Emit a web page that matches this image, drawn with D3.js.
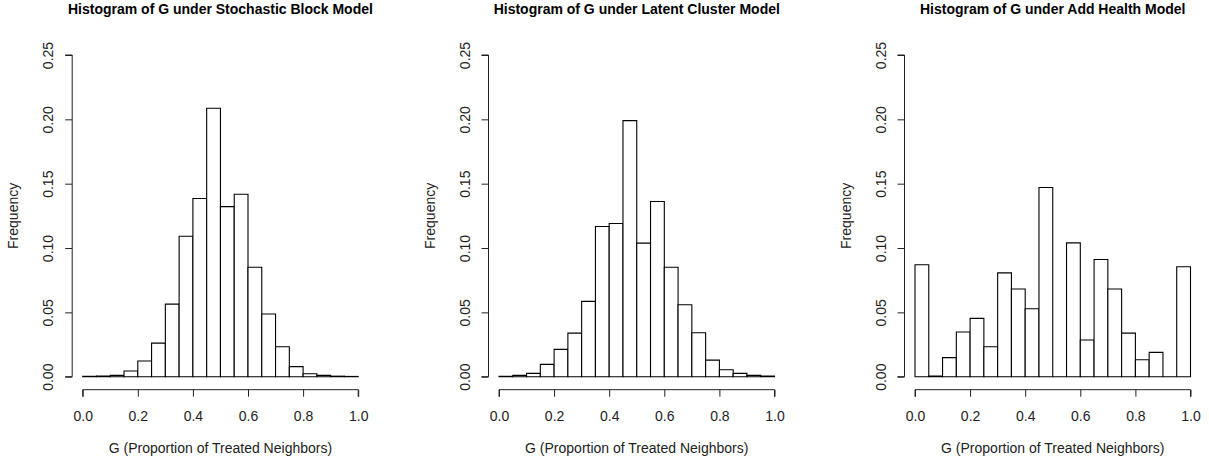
<!DOCTYPE html>
<html>
<head>
<meta charset="utf-8">
<script src="https://cdn.jsdelivr.net/npm/d3@7"></script>
<style>
  html, body { margin: 0; padding: 0; background: #fff; }
  svg { display: block; font-family: "Liberation Sans", Arial, sans-serif; }
</style>
</head>
<body>
<svg id="chart" width="1209" height="463"></svg>
<script>
// Bin edges (width 0.05, from 0 to 1)
const binStarts = [0.00,0.05,0.10,0.15,0.20,0.25,0.30,0.35,0.40,0.45,0.50,0.55,0.60,0.65,0.70,0.75,0.80,0.85,0.90,0.95];
const binWidth = 0.05;

const titles = [
  "Histogram of G under Stochastic Block Model",
  "Histogram of G under Latent Cluster Model",
  "Histogram of G under Add Health Model"
];

const sbmFreq = [0.0003,0.0005,0.0010,0.0044,0.0122,0.0261,0.0564,0.1092,0.1385,0.2086,0.1322,0.1418,0.0851,0.0487,0.0233,0.0078,0.0023,0.0010,0.0004,0.0002];
const lcmFreq = [0.0003,0.0010,0.0026,0.0096,0.0212,0.0339,0.0585,0.1167,0.1190,0.1990,0.1038,0.1361,0.0851,0.0559,0.0342,0.0129,0.0054,0.0026,0.0010,0.0005];
const ahFreq  = [0.0870,0.0005,0.0148,0.0347,0.0453,0.0233,0.0807,0.0681,0.0528,0.1470,0.0000,0.1040,0.0285,0.0911,0.0681,0.0339,0.0132,0.0189,0.0000,0.0854];

const xTicks = [0.0,0.2,0.4,0.6,0.8,1.0];
const yTicks = [0.00,0.05,0.10,0.15,0.20,0.25];
const xLabel = "G (Proportion of Treated Neighbors)";
const yLabel = "Frequency";

const series = [sbmFreq, lcmFreq, ahFreq];
const plotLefts = [82.7, 499, 915];
const plotW = 275.5;
const yTop = 55, yBottom = 376.7;
const FS = 14;

const svg = d3.select("#chart");

series.forEach((vals, i) => {
  const x0 = plotLefts[i];
  const x = d3.scaleLinear().domain([0, 1]).range([x0, x0 + plotW]);
  const y = d3.scaleLinear().domain([0, 0.25]).range([yBottom, yTop]);
  const g = svg.append("g");

  // bars (as closed paths so zero-height bins still show a line)
  g.selectAll("path.bar")
    .data(binStarts.map((b, k) => ({ b, v: vals[k] })))
    .join("path")
    .attr("class", "bar")
    .attr("d", d => `M${x(d.b)},${y(0)}V${y(d.v)}H${x(d.b + binWidth)}V${y(0)}Z`)
    .attr("fill", "#fff")
    .attr("stroke", "#000")
    .attr("stroke-width", 1.1);

  // x axis
  const xAxis = d3.axisBottom(x).tickValues(xTicks).tickFormat(d3.format(".1f")).tickSize(7);
  const gx = g.append("g").attr("transform", `translate(0,${yBottom + 13})`).call(xAxis);
  gx.select(".domain").attr("d", `M${x(0)},7V0H${x(1)}V7`).attr("stroke", "#222");
  gx.selectAll(".tick line").attr("stroke", "#222");
  gx.selectAll(".tick text")
    .attr("y", 31).attr("dy", null)
    .attr("font-size", FS).attr("fill", "#222")
    .attr("font-family", "Liberation Sans, Arial, sans-serif");

  // y axis
  const yAxis = d3.axisLeft(y).tickValues(yTicks).tickFormat(d3.format(".2f")).tickSize(7);
  const gy = g.append("g").attr("transform", `translate(${x0 - 10.5},0)`).call(yAxis);
  gy.select(".domain").attr("d", `M-7,${y(0)}H0V${y(0.25)}H-7`).attr("stroke", "#222");
  gy.selectAll(".tick line").attr("stroke", "#222");
  gy.selectAll(".tick text")
    .attr("x", null).attr("dy", null)
    .attr("text-anchor", "middle")
    .attr("transform", "translate(-19,0) rotate(-90)")
    .attr("font-size", FS).attr("fill", "#222")
    .attr("font-family", "Liberation Sans, Arial, sans-serif");

  // title
  g.append("text")
    .attr("x", x0 + plotW / 2).attr("y", 13.5)
    .attr("text-anchor", "middle")
    .attr("font-weight", "bold").attr("font-size", FS)
    .attr("fill", "#000")
    .text(titles[i]);

  // x label
  g.append("text")
    .attr("x", x0 + plotW / 2).attr("y", 452.5)
    .attr("text-anchor", "middle")
    .attr("font-size", FS).attr("fill", "#222")
    .text(xLabel);

  // y label
  g.append("text")
    .attr("transform", `translate(${x0 - 64.5},${(yTop + yBottom) / 2}) rotate(-90)`)
    .attr("text-anchor", "middle")
    .attr("font-size", FS).attr("fill", "#222")
    .text(yLabel);
});
</script>
</body>
</html>
